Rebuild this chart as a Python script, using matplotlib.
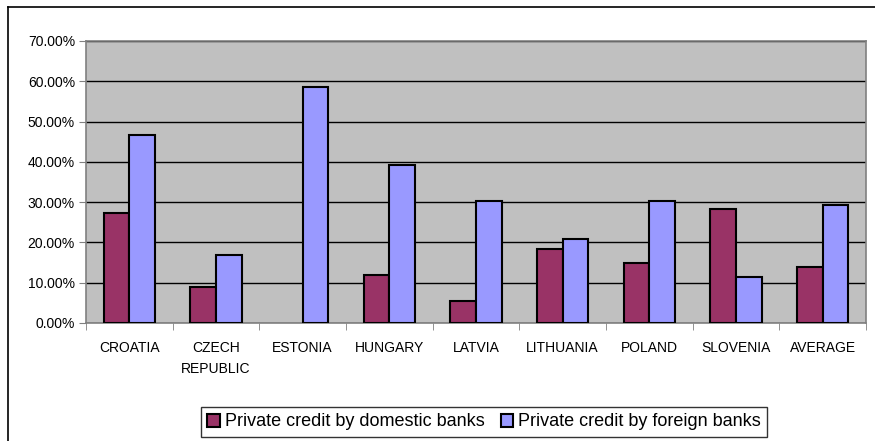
import matplotlib.pyplot as plt
import numpy as np
from matplotlib.lines import Line2D
from matplotlib.patches import Patch

plt.rcParams['font.family'] = ['Liberation Sans', 'DejaVu Sans']

countries = ["CROATIA", "CZECH\nREPUBLIC", "ESTONIA", "HUNGARY", "LATVIA",
             "LITHUANIA", "POLAND", "SLOVENIA", "AVERAGE"]
domestic = [27.3, 8.9, 0.0, 11.9, 5.5, 18.4, 14.9, 28.3, 13.9]
foreign = [46.6, 16.9, 58.6, 39.2, 30.3, 20.8, 30.2, 11.4, 29.2]
yticks = [0, 10, 20, 30, 40, 50, 60, 70]

fig = plt.figure(figsize=(8.75, 4.41), dpi=100)
ax = fig.add_axes([86/875, 1-323/441, 780/875, 282/441])

# outer chart frame (left and top only visible)
fig.add_artist(Line2D([8/875, 8/875], [0, 1-7/441], color="black", lw=1.2))
fig.add_artist(Line2D([8/875, 1], [1-7/441, 1-7/441], color="black", lw=1.2))

x = np.arange(len(countries))
w = 0.295
ax.set_facecolor("#C0C0C0")
lw_dom = [1.5 if v > 0 else 0 for v in domestic]
lw_for = [1.5 if v > 0 else 0 for v in foreign]
ax.bar(x - w/2, domestic, w, color="#993366", edgecolor="black", linewidth=lw_dom, zorder=3)
ax.bar(x + w/2, foreign, w, color="#9999FF", edgecolor="black", linewidth=lw_for, zorder=3)

ax.set_xlim(-0.5, len(countries) - 0.5)
ax.set_ylim(0, 70)
ax.set_yticks(yticks)
ax.set_yticklabels(["%.2f%%" % v for v in yticks], fontsize=10)
ax.yaxis.grid(True, color="black", lw=1, zorder=1)
ax.set_axisbelow(True)

ax.set_xticks(x)
ax.set_xticklabels(countries, fontsize=10, linespacing=1.6)
ax.set_xticks(np.arange(-0.5, len(countries)), minor=True)
ax.tick_params(axis="x", which="major", length=0, pad=13)
ax.tick_params(axis="x", which="minor", length=5, color="#808080")
ax.tick_params(axis="y", length=5, color="#808080", pad=3)

for s in ax.spines:
    ax.spines[s].set_color("#808080")
    ax.spines[s].set_linewidth(1.2)

handles = [Patch(facecolor="#993366", edgecolor="black", lw=1.5),
           Patch(facecolor="#9999FF", edgecolor="black", lw=1.5)]
leg = fig.legend(handles, ["Private credit by domestic banks", "Private credit by foreign banks"],
                 loc="center", bbox_to_anchor=(484/875, 1-422/441), ncol=2, fontsize=13,
                 frameon=True, fancybox=False, edgecolor="black", handlelength=0.7,
                 handleheight=0.7, handletextpad=0.25, columnspacing=0.9, borderpad=0.35)
leg.get_frame().set_linewidth(1.0)

fig.savefig("out.png", dpi=100)
